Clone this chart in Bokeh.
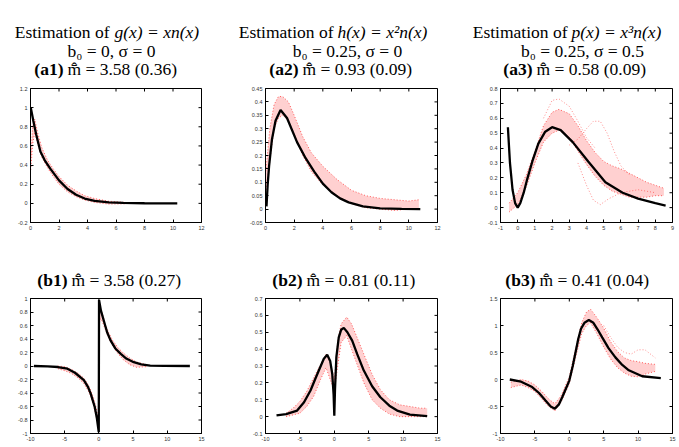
from bokeh.plotting import figure
from bokeh.layouts import column, row
from bokeh.models import Range1d, FixedTicker, CustomJSTickFormatter
from bokeh.core.properties import value
from bokeh.embed import file_html
from bokeh.resources import INLINE

# ---------------- data ----------------
# (a1) g(x) = x n(x)
a1_x = [0.02, 0.2, 0.4, 0.7, 1.0, 1.4, 2.0, 2.6, 3.2, 3.8, 4.5, 5.5, 6.5, 8.0, 10.3]
a1_y = [1.0, 0.86, 0.72, 0.54, 0.45, 0.36, 0.24, 0.15, 0.09, 0.05, 0.025, 0.01, 0.004, 0.001, 0.0]
a1_rx = [0.02, 0.15, 0.3, 0.5, 0.8, 1.2, 1.6, 2.0, 2.6, 3.2, 3.8, 4.5, 5.5, 6.7]
a1_hi = [0.5, 0.8, 0.88, 0.74, 0.58, 0.45, 0.36, 0.28, 0.19, 0.13, 0.08, 0.05, 0.022, 0.01]
a1_lo = [0.35, 0.62, 0.74, 0.62, 0.48, 0.37, 0.28, 0.2, 0.12, 0.07, 0.035, 0.01, -0.008, -0.005]

# (a2) h(x) = x^2 n(x)
a2_x = [0.07, 0.15, 0.25, 0.45, 0.7, 1.05, 1.5, 2.2, 2.8, 3.4, 4.0, 4.6, 5.2, 5.8, 6.8, 8.0, 9.5, 10.8]
a2_y = [0.01, 0.09, 0.16, 0.26, 0.33, 0.37, 0.34, 0.25, 0.19, 0.14, 0.095, 0.063, 0.04, 0.025, 0.01, 0.003, 0.001, 0.0]
a2_rx = [0.0, 0.3, 0.6, 0.9, 1.2, 1.6, 2.0, 2.6, 3.2, 4.0, 5.0, 6.0, 7.0, 8.0, 9.0, 10.0, 10.7]
a2_hi = [0.13, 0.3, 0.39, 0.42, 0.42, 0.4, 0.35, 0.27, 0.21, 0.16, 0.11, 0.07, 0.05, 0.04, 0.035, 0.03, 0.035]
a2_lo = [0.05, 0.18, 0.3, 0.34, 0.35, 0.33, 0.28, 0.2, 0.14, 0.09, 0.05, 0.02, 0.005, 0.0, -0.005, 0.0, 0.0]

# (a3) p(x) = x^3 n(x)
a3_x = [-0.57, -0.45, -0.3, -0.15, 0.0, 0.15, 0.35, 0.55, 0.85, 1.2, 1.6, 2.0, 2.5, 3.2, 4.1, 5.1, 6.1, 7.0, 8.0, 8.6]
a3_y = [0.54, 0.3, 0.12, 0.03, 0.0, 0.03, 0.1, 0.19, 0.31, 0.43, 0.51, 0.54, 0.52, 0.44, 0.31, 0.17, 0.1, 0.06, 0.03, 0.014]
a3_rx = [-0.5, 0.0, 0.5, 1.0, 1.5, 2.0, 2.4, 3.0, 3.5, 4.0, 4.5, 5.0, 5.5, 6.0, 6.5, 7.0, 7.5, 8.0, 8.5]
a3_hi = [0.03, 0.1, 0.22, 0.38, 0.55, 0.64, 0.66, 0.63, 0.55, 0.45, 0.37, 0.31, 0.28, 0.26, 0.23, 0.2, 0.17, 0.15, 0.13]
a3_lo = [-0.03, 0.02, 0.14, 0.3, 0.44, 0.5, 0.52, 0.47, 0.38, 0.29, 0.21, 0.15, 0.11, 0.09, 0.07, 0.07, 0.07, 0.08, 0.08]
a3_o1x = [1.5, 2.0, 2.4, 3.0, 3.5, 4.0, 4.5]
a3_o1y = [0.6, 0.72, 0.73, 0.68, 0.58, 0.47, 0.4]
a3_o2x = [3.0, 3.5, 4.0, 4.4, 4.8, 5.2, 5.6, 6.0, 6.5]
a3_o2y = [0.42, 0.46, 0.53, 0.58, 0.58, 0.5, 0.38, 0.28, 0.22]
a3_o3x = [3.5, 4.0, 4.4, 4.8, 5.3, 6.0, 7.0, 8.0]
a3_o3y = [0.3, 0.15, 0.05, 0.02, 0.06, 0.1, 0.12, 0.1]

# (b1)
b1_x = [-9.5, -7.5, -6, -4.6, -3.5, -2.2, -1.6, -1.2, -0.6, -0.3, -0.02, 0.02, 0.3, 0.72, 1.2, 1.7, 2.4, 3.2, 4.0, 5.1, 6.2, 7.5, 9.5, 13.3]
b1_y = [0.0, -0.005, -0.015, -0.04, -0.1, -0.21, -0.31, -0.41, -0.61, -0.77, -0.98, 0.98, 0.82, 0.67, 0.5, 0.38, 0.26, 0.18, 0.11, 0.056, 0.025, 0.007, 0.001, 0.0]
b1_lx = [-6, -5, -4, -3, -2.2, -1.6, -1.2, -0.8, -0.4, -0.1]
b1_lhi = [0.0, -0.01, -0.05, -0.11, -0.18, -0.27, -0.36, -0.47, -0.62, -0.78]
b1_llo = [-0.04, -0.07, -0.11, -0.18, -0.26, -0.36, -0.45, -0.58, -0.75, -0.88]
b1_rx = [0.05, 0.2, 0.5, 0.9, 1.4, 2.0, 2.8, 3.6, 4.5, 5.5, 7.0]
b1_rhi = [0.8, 0.86, 0.78, 0.63, 0.5, 0.38, 0.27, 0.19, 0.12, 0.06, 0.02]
b1_rlo = [0.6, 0.7, 0.66, 0.55, 0.42, 0.3, 0.18, 0.09, 0.02, -0.02, -0.01]

# (b2)
b2_x = [-8.4, -7, -5.4, -4.4, -3.46, -2.8, -2.25, -1.52, -1.03, -0.6, -0.3, -0.1, 0.0, 0.1, 0.3, 0.65, 1.0, 1.38, 1.9, 2.6, 3.33, 4.29, 5.5, 6.7, 8.0, 9.14, 11, 13.5]
b2_y = [0.007, 0.015, 0.036, 0.085, 0.155, 0.22, 0.273, 0.343, 0.366, 0.33, 0.254, 0.13, 0.005, 0.16, 0.352, 0.47, 0.515, 0.526, 0.5, 0.45, 0.37, 0.273, 0.18, 0.115, 0.065, 0.036, 0.012, 0.003]
b2_rx = [-7, -6, -5, -4, -3, -2, -1.2, -0.6, 0.0, 0.5, 1.0, 1.8, 2.5, 3.3, 4.3, 5.5, 6.7, 8, 9.5, 11, 12.5, 13.5]
b2_hi = [0.02, 0.05, 0.09, 0.15, 0.23, 0.31, 0.37, 0.32, 0.22, 0.45, 0.55, 0.59, 0.55, 0.47, 0.37, 0.25, 0.16, 0.1, 0.07, 0.06, 0.05, 0.05]
b2_lo = [0.0, 0.01, 0.02, 0.06, 0.12, 0.22, 0.29, 0.22, 0.15, 0.3, 0.44, 0.48, 0.4, 0.31, 0.2, 0.1, 0.05, 0.015, 0.0, 0.0, 0.0, 0.0]

# (b3)
b3_x = [-8.65, -7, -5.4, -4.4, -3.46, -2.7, -2.1, -1.5, -1.03, -0.5, 0.0, 0.5, 0.97, 1.3, 1.7, 2.2, 2.84, 3.5, 4.1, 4.78, 5.7, 6.7, 7.7, 8.65, 10.6, 13.3]
b3_y = [0.0, -0.04, -0.14, -0.25, -0.39, -0.5, -0.54, -0.46, -0.33, -0.17, -0.02, 0.25, 0.54, 0.75, 0.94, 1.05, 1.1, 1.05, 0.93, 0.78, 0.58, 0.41, 0.27, 0.17, 0.06, 0.025]
b3_rx = [-8.5, -7, -6, -5, -4, -3, -2.1, -1.2, 0, 1, 1.8, 2.5, 3.1, 4, 5, 6, 7, 8, 9, 10, 11, 12.5]
b3_hi = [-0.05, 0.0, -0.03, -0.1, -0.22, -0.36, -0.45, -0.3, 0.05, 0.62, 1.05, 1.25, 1.3, 1.15, 0.95, 0.7, 0.52, 0.4, 0.35, 0.33, 0.3, 0.28]
b3_lo = [-0.15, -0.1, -0.15, -0.22, -0.36, -0.5, -0.58, -0.42, -0.08, 0.45, 0.85, 1.0, 1.05, 0.85, 0.6, 0.38, 0.22, 0.12, 0.06, 0.05, 0.1, 0.15]
b3_ox = [5, 6, 7, 8, 9, 10, 11, 12.5]
b3_oy = [1.0, 0.78, 0.6, 0.5, 0.47, 0.55, 0.55, 0.4]

# tick labels
a1_xt = [0, 2, 4, 6, 8, 10, 12]
a1_yt = [-0.2, 0, 0.2, 0.4, 0.6, 0.8, 1, 1.2]
a2_xt = [0, 2, 4, 6, 8, 10, 12]
a2_yt = [-0.05, 0, 0.05, 0.1, 0.15, 0.2, 0.25, 0.3, 0.35, 0.4, 0.45]
a3_xt = [-1, 0, 1, 2, 3, 4, 5, 6, 7, 8, 9]
a3_yt = [-0.1, 0, 0.1, 0.2, 0.3, 0.4, 0.5, 0.6, 0.7, 0.8]
b_xt = [-10, -5, 0, 5, 10, 15]
b1_yt = [-1, -0.8, -0.6, -0.4, -0.2, 0, 0.2, 0.4, 0.6, 0.8, 1]
b2_yt = [-0.1, 0, 0.1, 0.2, 0.3, 0.4, 0.5, 0.6, 0.7]
b3_yt = [-1, -0.5, 0, 0.5, 1, 1.5]

# titles
t_pre = ["Estimation of", "Estimation of", "Estimation of"]
t_fun = ["g(x) = xn(x)", "h(x) = x\u00b2n(x)", "p(x) = x\u00b3n(x)"]
t_par = ["b\u2080 = 0, \u03c3 = 0", "b\u2080 = 0.25, \u03c3 = 0", "b\u2080 = 0.25, \u03c3 = 0.5"]
MB = "m\u0302\u0304"
a_tag = ["(a1)", "(a2)", "(a3)"]
a_stat = [MB + " = 3.58 (0.36)", MB + " = 0.93 (0.09)", MB + " = 0.58 (0.09)"]
b_tag = ["(b1)", "(b2)", "(b3)"]
b_stat = [MB + " = 3.58 (0.27)", MB + " = 0.81 (0.11)", MB + " = 0.41 (0.04)"]

SERIF = value("Liberation Serif")
FS = value("17.5px")


def header(h, y0, lines):
    p = figure(width=679, height=h, x_range=Range1d(0, 679), y_range=Range1d(y0 + h, y0),
               output_backend="svg", toolbar_location=None, x_axis_location=None,
               y_axis_location=None, min_border=0, min_border_left=0, min_border_right=0,
               min_border_top=0, min_border_bottom=0, outline_line_color=None)
    p.xgrid.visible = False
    p.ygrid.visible = False
    for (x, y, txt, style, align) in lines:
        p.text(x=[x], y=[y], text=[txt], text_font=SERIF, text_font_size=FS,
               text_font_style=value(style), text_align=value(align),
               text_baseline=value("alphabetic"), text_color="black")
    return p


def panel(xr, yr, xt, yt, bl, br, bt, bb, fw, fh):
    p = figure(frame_width=fw, frame_height=fh, x_range=Range1d(*xr), y_range=Range1d(*yr),
               output_backend="svg", toolbar_location=None,
               min_border_left=bl, min_border_right=br, min_border_top=bt, min_border_bottom=bb)
    p.xgrid.visible = False
    p.ygrid.visible = False
    p.outline_line_color = "black"
    p.outline_line_width = 1
    fmt = CustomJSTickFormatter(code="return String(tick);")
    for ax, t in ((p.xaxis[0], xt), (p.yaxis[0], yt)):
        ax.ticker = FixedTicker(ticks=t)
        ax.formatter = fmt
        ax.major_label_text_font_size = "5.5px"
        ax.major_label_text_font = "Liberation Sans"
        ax.major_label_text_color = "#333333"
        ax.major_tick_in = 3
        ax.major_tick_out = 0
        ax.minor_tick_line_color = None
        ax.axis_line_color = "black"
        ax.major_label_standoff = 3
    # inward ticks on the top and right edges of the box
    dy = (yr[1] - yr[0]) * 3.0 / fh
    dx = (xr[1] - xr[0]) * 3.0 / fw
    p.segment(x0=xt, y0=[yr[1]] * len(xt), x1=xt, y1=[yr[1] - dy] * len(xt),
              line_color="black", line_width=1)
    p.segment(x0=[xr[1]] * len(yt), y0=yt, x1=[xr[1] - dx] * len(yt), y1=yt,
              line_color="black", line_width=1)
    return p


def band(p, x, lo, hi):
    p.varea(x=x, y1=lo, y2=hi, fill_color="#ff2a2a", fill_alpha=0.22)
    p.line(x, hi, line_color="red", line_alpha=0.6, line_dash="1 2", line_width=1)
    p.line(x, lo, line_color="red", line_alpha=0.6, line_dash="1 2", line_width=1)


def stray(p, x, y):
    p.line(x, y, line_color="red", line_alpha=0.45, line_dash="1 2", line_width=1)


def truth(p, x, y):
    p.line(x, y, line_color="black", line_width=2.3)


# header rows
hA = header(85, 0, [
    (109, 31.7, t_pre[0], "normal", "right"), (114, 31.7, t_fun[0], "italic", "left"),
    (333, 31.7, t_pre[1], "normal", "right"), (337, 31.7, t_fun[1], "italic", "left"),
    (567, 31.7, t_pre[2], "normal", "right"), (571, 31.7, t_fun[2], "italic", "left"),
    (111, 50, t_par[0], "normal", "center"),
    (347, 50, t_par[1], "normal", "center"),
    (582, 50, t_par[2], "normal", "center"),
    (63, 68, a_tag[0], "bold", "right"), (67, 68, a_stat[0], "normal", "left"),
    (298, 68, a_tag[1], "bold", "right"), (302, 68, a_stat[1], "normal", "left"),
    (532, 68, a_tag[2], "bold", "right"), (536, 68, a_stat[2], "normal", "left"),
])
hB = header(55, 240, [
    (67, 279, b_tag[0], "bold", "right"), (71, 279, b_stat[0], "normal", "left"),
    (302, 279, b_tag[1], "bold", "right"), (306, 279, b_stat[1], "normal", "left"),
    (535, 279, b_tag[2], "bold", "right"), (539, 279, b_stat[2], "normal", "left"),
])

# panels, row A
pa1 = panel((0, 12), (-0.2, 1.2), a1_xt, a1_yt, 30, 20, 3, 18, 171, 134)
band(pa1, a1_rx, a1_lo, a1_hi)
truth(pa1, a1_x, a1_y)

pa2 = panel((0, 12), (-0.05, 0.45), a2_xt, a2_yt, 44, 19, 3, 18, 172, 134)
band(pa2, a2_rx, a2_lo, a2_hi)
truth(pa2, a2_x, a2_y)

pa3 = panel((-1, 9), (-0.1, 0.8), a3_xt, a3_yt, 44, 7, 3, 18, 172, 134)
band(pa3, a3_rx, a3_lo, a3_hi)
stray(pa3, a3_o1x, a3_o1y)
stray(pa3, a3_o2x, a3_o2y)
stray(pa3, a3_o3x, a3_o3y)
truth(pa3, a3_x, a3_y)

# panels, row B
pb1 = panel((-10, 15), (-1, 1), b_xt, b1_yt, 30, 20, 3, 14, 171, 135)
band(pb1, b1_lx, b1_llo, b1_lhi)
band(pb1, b1_rx, b1_rlo, b1_rhi)
truth(pb1, b1_x, b1_y)

pb2 = panel((-10, 15), (-0.1, 0.7), b_xt, b2_yt, 44, 19, 3, 14, 172, 135)
band(pb2, b2_rx, b2_lo, b2_hi)
truth(pb2, b2_x, b2_y)

pb3 = panel((-10, 15), (-1, 1.5), b_xt, b3_yt, 44, 7, 3, 14, 172, 135)
band(pb3, b3_rx, b3_lo, b3_hi)
stray(pb3, b3_ox, b3_oy)
truth(pb3, b3_x, b3_y)

layout = column(hA, row(pa1, pa2, pa3), hB, row(pb1, pb2, pb3))

with open("out.html", "w") as f:
    f.write(file_html(layout, INLINE))
